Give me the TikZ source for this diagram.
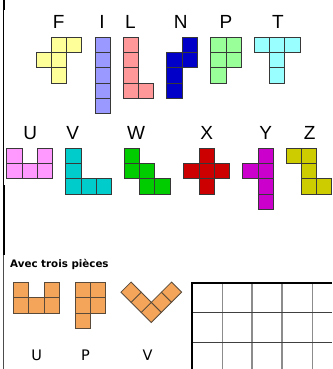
\documentclass[tikz,border=0pt]{standalone}
\usepackage{fontspec}
\newfontfamily\lsans{Liberation Sans}
\newfontfamily\dvsans{DejaVu Sans}
\definecolor{Fcol}{HTML}{FFFF99}
\definecolor{Icol}{HTML}{9999FF}
\definecolor{Lcol}{HTML}{FF9999}
\definecolor{Ncol}{HTML}{0000C8}
\definecolor{Pcol}{HTML}{99FF99}
\definecolor{Tcol}{HTML}{99FFFF}
\definecolor{Ucol}{HTML}{FF99FF}
\definecolor{Vcol}{HTML}{00CCCC}
\definecolor{Wcol}{HTML}{00CC00}
\definecolor{Xcol}{HTML}{CC0000}
\definecolor{Ycol}{HTML}{CC00CC}
\definecolor{Zcol}{HTML}{CCCC00}
\definecolor{Ocol}{HTML}{F4A55A}
\definecolor{Oedge}{HTML}{5A4A3A}
\newcommand\pentopiece[5]{%
  \foreach \ci/\cj in {#5} {%
    \filldraw[cellst, fill=#4] ({#1+\ci*#3},{#2+\cj*#3}) rectangle ++(#3,#3);
  }%
}
\tikzset{
  cellst/.style={draw=black!78, line width=0.9pt},
  ocell/.style={draw=Oedge, line width=0.8pt, fill=Ocol},
  biglab/.style={font=\lsans\fontsize{19}{22}\selectfont, inner sep=0pt, anchor=base},
  smalllab/.style={font=\dvsans\fontsize{14.5}{17}\selectfont, inner sep=0pt, anchor=base},
  gridv/.style={draw=black!45, line width=1.4pt},
  gridh/.style={draw=black!75, line width=1pt},
  gridb/.style={draw=black, line width=1.8pt},
}
\begin{document}
\begin{tikzpicture}[x=1pt,y=-1pt]
\useasboundingbox (0,0) rectangle (332,369);
% left edge line
\draw[line width=2pt] (4,0) -- (4,10);
\draw[line width=0.8pt] (3.5,10) -- (3.5,185);
\draw[line width=2pt] (4,185) -- (4,255);
\draw[line width=0.7pt, black!70] (3.5,255) -- (3.5,369);
% top row
\pentopiece{36}{37.3}{15.3}{Fcol}{1/0,2/0,0/1,1/1,1/2}
\pentopiece{95.3}{37.3}{15.3}{Icol}{0/0,0/1,0/2,0/3,0/4}
\pentopiece{123.3}{37.3}{15.3}{Lcol}{0/0,0/1,0/2,0/3,1/3}
\pentopiece{166.7}{37.3}{15.3}{Ncol}{1/0,1/1,0/1,0/2,0/3}
\pentopiece{210.7}{37.3}{15.3}{Pcol}{0/0,1/0,0/1,1/1,0/2}
\pentopiece{254.3}{37.3}{15.3}{Tcol}{0/0,1/0,2/0,1/1,1/2}
\node[biglab] (lF) at (58.8,29) {F};
\node[biglab] (lI) at (102,29) {I};
\node[biglab] (lL) at (130.3,29) {L};
\node[biglab] (lN) at (180.8,29) {N};
\node[biglab] (lP) at (226,29) {P};
\node[biglab] (lT) at (277.8,29) {T};
% second row
\pentopiece{6.7}{148.3}{15.3}{Ucol}{0/0,2/0,0/1,1/1,2/1}
\pentopiece{65.7}{148.3}{15.3}{Vcol}{0/0,0/1,0/2,1/2,2/2}
\pentopiece{124.3}{148.3}{15.3}{Wcol}{0/0,0/1,1/1,1/2,2/2}
\pentopiece{183.7}{148.3}{15.3}{Xcol}{1/0,0/1,1/1,2/1,1/2}
\pentopiece{242.7}{148.3}{15.3}{Ycol}{1/0,0/1,1/1,1/2,1/3}
\pentopiece{286}{148.3}{15.3}{Zcol}{0/0,1/0,1/1,1/2,2/2}
\node[biglab] (lU) at (30.2,139.3) {U};
\node[biglab] (lV) at (72.8,139.3) {V};
\node[biglab] (lW) at (136.2,139.3) {W};
\node[biglab] (lX) at (206.7,139.3) {X};
\node[biglab] (lY) at (265.8,139.3) {Y};
\node[biglab] (lZ) at (309.7,139.3) {Z};
% bottom section
\node[font=\dvsans\bfseries\fontsize{10.3}{12}\selectfont, inner sep=0pt, anchor=west] (title) at (10,264.3) {Avec trois pièces};
\foreach \ci/\cj in {0/0,2/0,0/1,1/1,2/1} {
  \filldraw[ocell] ({13.3+\ci*15.4},{282.3+\cj*15.4}) rectangle ++(15.4,15.4);
}
\foreach \ci/\cj in {0/0,1/0,0/1,1/1,0/2} {
  \filldraw[ocell] ({75+\ci*15.4},{282.3+\cj*15.4}) rectangle ++(15.4,15.4);
}
\begin{scope}[shift={(151.3,322.5)}, x={(-10.11pt,10.11pt)}, y={(10.11pt,10.11pt)}]
\foreach \ci/\cj in {0/0,1/0,2/0,0/1,0/2} {
  \filldraw[ocell] (\ci,\cj) -- ({\ci+1},\cj) -- ({\ci+1},{\cj+1}) -- (\ci,{\cj+1}) -- cycle;
}
\end{scope}
\node[smalllab] (bU) at (36.7,360.3) {U};
\node[smalllab] (bP) at (85.5,360.3) {P};
\node[smalllab] (bV) at (147.7,360.3) {V};
% grid
\foreach \gx in {222.7,252,282,312.3} {\draw[gridv] (\gx,283.3) -- (\gx,369);}
\foreach \gy in {312.7,342.7} {\draw[gridh] (192,\gy) -- (332,\gy);}
\draw[gridb] (332,283.3) -- (192,283.3) -- (192,369);
\end{tikzpicture}
\end{document}
